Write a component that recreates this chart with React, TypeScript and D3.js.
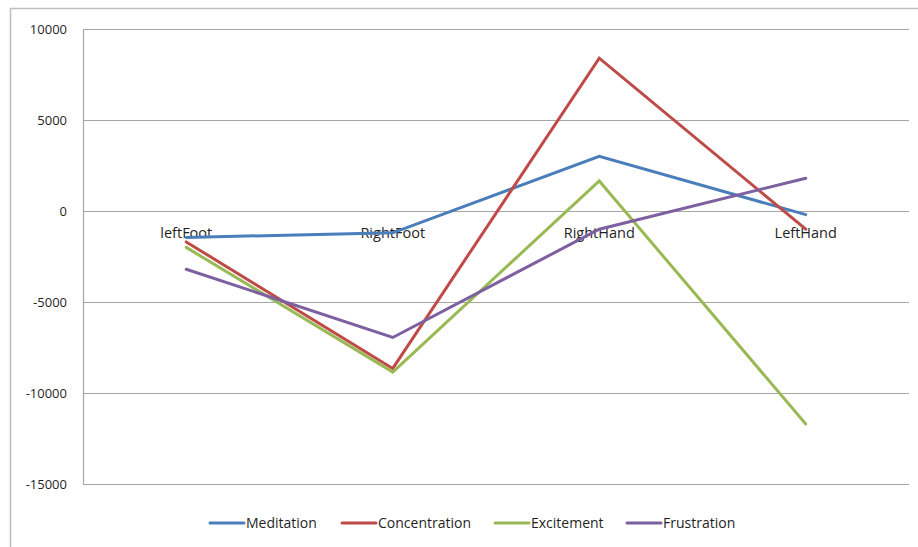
import { useEffect, useRef } from 'react'
import * as d3 from 'd3'

const categories = ['leftFoot', 'RightFoot', 'RightHand', 'LeftHand']
const meditation = [-1450, -1200, 3000, -200]
const concentration = [-1700, -8650, 8400, -1000]
const excitement = [-2000, -8850, 1650, -11700]
const frustration = [-3200, -6950, -1000, 1800]
const yTicks = [10000, 5000, 0, -5000, -10000, -15000]

const seriesNames = ['Meditation', 'Concentration', 'Excitement', 'Frustration']
const seriesValues = [meditation, concentration, excitement, frustration]
const seriesColors = ['#4A7EBB', '#BE4B48', '#98B954', '#7D60A0']

const W = 918
const H = 547
const FONT = '"Open Sans", sans-serif'

export default function App() {
  const ref = useRef<SVGSVGElement>(null)

  useEffect(() => {
    const el = ref.current
    if (!el) return
    const svg = d3.select(el)
    svg.selectAll('*').remove()

    const margin = { top: 29, right: 9, bottom: 63, left: 83 }
    const innerW = W - margin.left - margin.right
    const innerH = H - margin.top - margin.bottom

    // outer chart frame
    svg.append('path')
      .attr('d', `M10.5,${H} L10.5,8.5 L${W},8.5`)
      .attr('fill', 'none')
      .attr('stroke', '#bdbdbd')
      .attr('stroke-width', 1.5)

    const g = svg.append('g').attr('transform', `translate(${margin.left},${margin.top})`)

    const x = d3.scaleBand().domain(categories).range([0, innerW])
    const y = d3.scaleLinear().domain([-15000, 10000]).range([innerH, 0])

    // gridlines + y labels
    g.append('g')
      .call(d3.axisLeft(y).tickValues(yTicks).tickSize(-innerW).tickPadding(16).tickFormat((d) => String(d)))
      .call((s) => s.select('.domain').remove())
      .call((s) => s.selectAll('line').attr('stroke', '#a6a6a6').attr('stroke-width', 1.2))
      .call((s) =>
        s.selectAll('text').attr('fill', '#1f1f1f').style('font-size', '13px').style('font-family', FONT)
      )

    // vertical axis line
    g.append('line')
      .attr('x1', 0.5).attr('x2', 0.5)
      .attr('y1', 0).attr('y2', innerH)
      .attr('stroke', '#a6a6a6')
      .attr('stroke-width', 1.2)

    // category labels at the zero line
    g.append('g')
      .attr('transform', `translate(0,${y(0)})`)
      .call(d3.axisBottom(x).tickSize(0).tickPadding(17))
      .call((s) => s.select('.domain').remove())
      .call((s) =>
        s.selectAll('text').attr('fill', '#1f1f1f').style('font-size', '14.5px').style('font-family', FONT)
      )

    const line = d3
      .line<number>()
      .x((_, i) => (x(categories[i]) || 0) + x.bandwidth() / 2)
      .y((d) => y(d))

    seriesValues.forEach((vals, i) => {
      g.append('path')
        .datum(vals)
        .attr('d', line)
        .attr('fill', 'none')
        .attr('stroke', seriesColors[i])
        .attr('stroke-width', 3)
        .attr('stroke-linecap', 'round')
    })

    // legend
    const legendX = [210, 342, 495, 627]
    const leg = svg.append('g').attr('transform', `translate(0,523)`)
    seriesNames.forEach((name, i) => {
      const item = leg.append('g').attr('transform', `translate(${legendX[i]},0)`)
      item.append('line')
        .attr('x1', 0).attr('x2', 34)
        .attr('stroke', seriesColors[i])
        .attr('stroke-width', 3)
        .attr('stroke-linecap', 'round')
      item.append('text')
        .attr('x', 36)
        .attr('dy', '0.35em')
        .attr('fill', '#1f1f1f')
        .style('font-size', '14px')
        .style('font-family', FONT)
        .text(name)
    })
  }, [])

  return (
    <svg
      ref={ref}
      width={W}
      height={H}
      style={{ position: 'absolute', left: 0, top: 0, background: '#fff' }}
    />
  )
}
